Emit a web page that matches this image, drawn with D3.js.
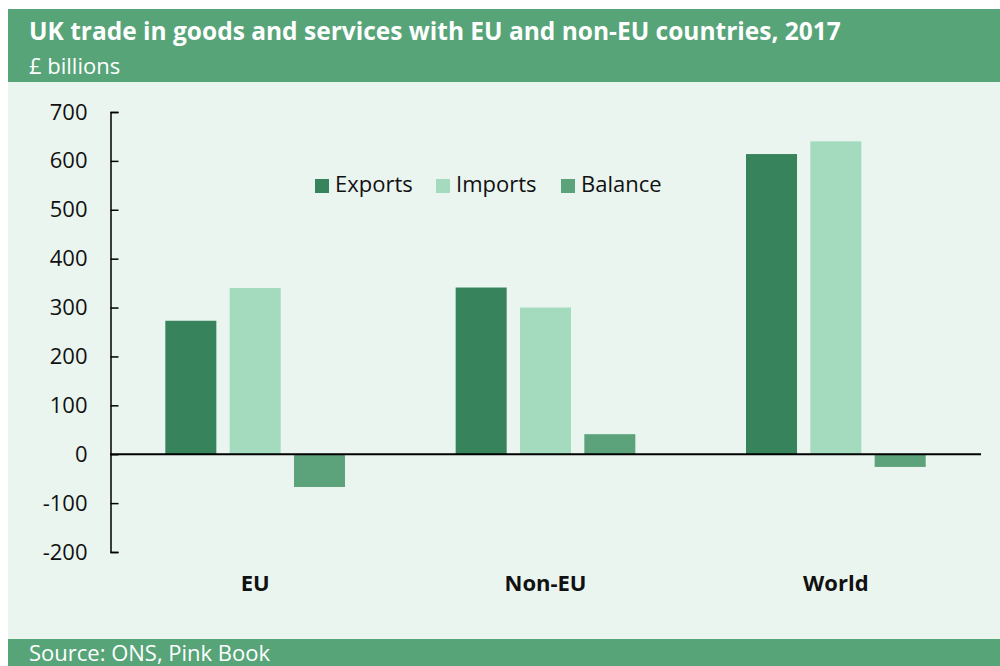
<!DOCTYPE html>
<html>
<head>
<meta charset="utf-8">
<script src="https://cdn.jsdelivr.net/npm/d3@7"></script>
<style>
  body { margin: 0; background: #fff; }
  text { font-family: "Open Sans", "Noto Sans", sans-serif; }
</style>
</head>
<body>
<div id="chart"></div>
<script>
var regions = ["EU", "Non-EU", "World"];
var seriesNames = ["Exports", "Imports", "Balance"];
var exportsVals = [273, 341, 614];
var importsVals = [340, 300, 640];
var balanceVals = [-67, 41, -26];
var yTicks = [-200, -100, 0, 100, 200, 300, 400, 500, 600, 700];
var colours = ["#37845c", "#a4dbbf", "#5ca37b"];

var width = 1000, height = 666;
var headerGreen = "#57a479";

var svg = d3.select("#chart")
  .append("svg")
  .attr("width", width)
  .attr("height", height);

// panel background
svg.append("rect")
  .attr("x", 8).attr("y", 9)
  .attr("width", width - 8).attr("height", height - 9)
  .style("fill", "#eaf5ef");

// header band
svg.append("rect")
  .attr("x", 8).attr("y", 9)
  .attr("width", width - 8).attr("height", 73)
  .style("fill", headerGreen);

svg.append("text")
  .attr("x", 29).attr("y", 40)
  .style("font-size", "24.5px")
  .style("font-weight", "bold")
  .style("fill", "#fff")
  .text("UK trade in goods and services with EU and non-EU countries, 2017");

svg.append("text")
  .attr("x", 29).attr("y", 74)
  .style("font-size", "22px")
  .style("fill", "#fff")
  .text("£ billions");

// footer band
svg.append("rect")
  .attr("x", 8).attr("y", 639)
  .attr("width", width - 8).attr("height", height - 639)
  .style("fill", headerGreen);

svg.append("text")
  .attr("x", 29).attr("y", 661)
  .style("font-size", "22px")
  .style("fill", "#fff")
  .text("Source: ONS, Pink Book");

// scales
var x0 = d3.scaleBand()
  .domain(regions)
  .range([110, 981]);

var x1 = d3.scaleBand()
  .domain(seriesNames)
  .range([0, x0.bandwidth()])
  .paddingInner(0.207)
  .paddingOuter(0.86);

var y = d3.scaleLinear()
  .domain([-200, 700])
  .range([552, 112]);

var data = regions.map(function (r, i) {
  return { region: r, values: [exportsVals[i], importsVals[i], balanceVals[i]] };
});

var groups = svg.append("g")
  .selectAll("g")
  .data(data)
  .enter()
  .append("g")
  .attr("transform", function (d) { return "translate(" + x0(d.region) + ",0)"; });

groups.selectAll("rect")
  .data(function (d) {
    return d.values.map(function (v, j) { return { key: seriesNames[j], value: v, idx: j }; });
  })
  .enter()
  .append("rect")
  .attr("x", function (d) { return x1(d.key); })
  .attr("width", x1.bandwidth())
  .attr("y", function (d) { return y(Math.max(0, d.value)); })
  .attr("height", function (d) { return Math.abs(y(d.value) - y(0)); })
  .style("fill", function (d) { return colours[d.idx]; });

// y axis
var yAxis = svg.append("g")
  .attr("transform", "translate(110.5,0)")
  .call(d3.axisLeft(y)
    .tickValues(yTicks)
    .tickSizeInner(-8)
    .tickSizeOuter(-8)
    .tickPadding(23)
    .tickFormat(function (d) { return String(d); }));
yAxis.selectAll("text")
  .style("font-size", "22px")
  .style("fill", "#111")
  .style("font-family", "'Open Sans', sans-serif");
yAxis.selectAll("line, path").style("stroke", "#000").style("stroke-width", 1.5);

// zero line
svg.append("line")
  .attr("x1", 110).attr("x2", 981)
  .attr("y1", y(0)).attr("y2", y(0))
  .style("stroke", "#000")
  .style("stroke-width", 2);

// category labels
svg.append("g")
  .selectAll("text")
  .data(regions)
  .enter()
  .append("text")
  .attr("x", function (d) { return x0(d) + x0.bandwidth() / 2; })
  .attr("y", 591)
  .attr("text-anchor", "middle")
  .style("font-size", "22px")
  .style("font-weight", "bold")
  .style("fill", "#111")
  .text(function (d) { return d; });

// legend
var legendX = [315, 436, 561];
var legend = svg.append("g")
  .selectAll("g")
  .data(seriesNames)
  .enter()
  .append("g")
  .attr("transform", function (d, i) { return "translate(" + legendX[i] + ",179)"; });

legend.append("rect")
  .attr("width", 14).attr("height", 14)
  .style("fill", function (d, i) { return colours[i]; });

legend.append("text")
  .attr("x", 20).attr("y", 13)
  .style("font-size", "22px")
  .style("fill", "#111")
  .text(function (d) { return d; });
</script>
</body>
</html>
